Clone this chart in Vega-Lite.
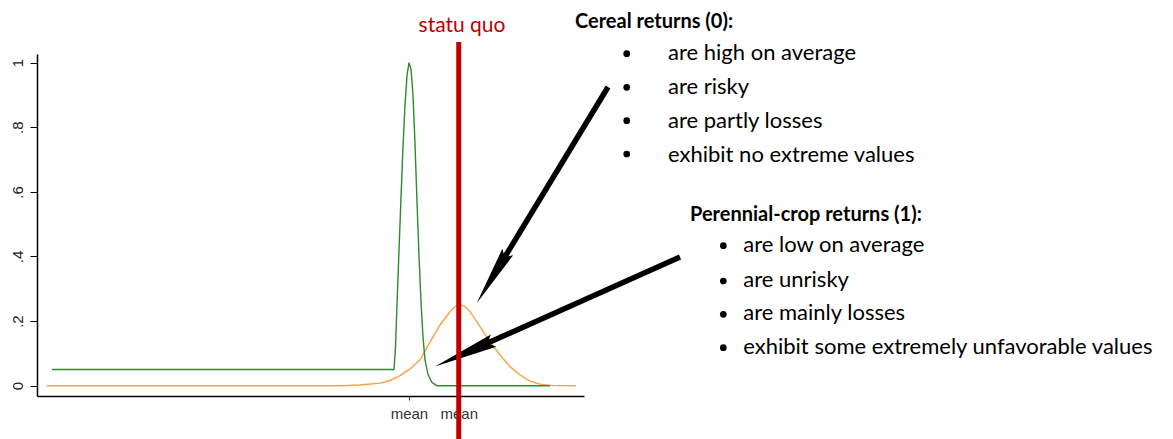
{
  "$schema": "https://vega.github.io/schema/vega-lite/v6.json",
  "width": 547,
  "height": 342,
  "autosize": {"type": "none"},
  "padding": {"left": 37, "top": 54, "right": 589, "bottom": 43},
  "background": "white",
  "config": {"view": {"stroke": null}, "axis": {"grid": false}},
  "datasets": {
    "curves": [
      {"crop": "Cereal (0)", "x": 1.77, "density": 0},
      {"crop": "Cereal (0)", "x": 55.39, "density": 0},
      {"crop": "Cereal (0)", "x": 59.05, "density": 0.002},
      {"crop": "Cereal (0)", "x": 62.71, "density": 0.008},
      {"crop": "Cereal (0)", "x": 64.53, "density": 0.016},
      {"crop": "Cereal (0)", "x": 66.36, "density": 0.031},
      {"crop": "Cereal (0)", "x": 68.19, "density": 0.052},
      {"crop": "Cereal (0)", "x": 70.02, "density": 0.08},
      {"crop": "Cereal (0)", "x": 71.85, "density": 0.135},
      {"crop": "Cereal (0)", "x": 73.67, "density": 0.188},
      {"crop": "Cereal (0)", "x": 75.5, "density": 0.229},
      {"crop": "Cereal (0)", "x": 76.42, "density": 0.245},
      {"crop": "Cereal (0)", "x": 77.33, "density": 0.25},
      {"crop": "Cereal (0)", "x": 78.24, "density": 0.245},
      {"crop": "Cereal (0)", "x": 79.16, "density": 0.229},
      {"crop": "Cereal (0)", "x": 80.99, "density": 0.183},
      {"crop": "Cereal (0)", "x": 82.82, "density": 0.136},
      {"crop": "Cereal (0)", "x": 84.64, "density": 0.095},
      {"crop": "Cereal (0)", "x": 86.47, "density": 0.059},
      {"crop": "Cereal (0)", "x": 88.3, "density": 0.033},
      {"crop": "Cereal (0)", "x": 90.13, "density": 0.014},
      {"crop": "Cereal (0)", "x": 91.96, "density": 0.005},
      {"crop": "Cereal (0)", "x": 93.78, "density": 0.001},
      {"crop": "Cereal (0)", "x": 98.48, "density": 0},
      {"crop": "Perennial crop (1)", "x": 2.74, "density": 0.05},
      {"crop": "Perennial crop (1)", "x": 65.27, "density": 0.05},
      {"crop": "Perennial crop (1)", "x": 65.54, "density": 0.12},
      {"crop": "Perennial crop (1)", "x": 65.81, "density": 0.25},
      {"crop": "Perennial crop (1)", "x": 66.18, "density": 0.42},
      {"crop": "Perennial crop (1)", "x": 66.54, "density": 0.58},
      {"crop": "Perennial crop (1)", "x": 66.91, "density": 0.74},
      {"crop": "Perennial crop (1)", "x": 67.28, "density": 0.87},
      {"crop": "Perennial crop (1)", "x": 67.64, "density": 0.96},
      {"crop": "Perennial crop (1)", "x": 68.01, "density": 1.0},
      {"crop": "Perennial crop (1)", "x": 68.37, "density": 0.98},
      {"crop": "Perennial crop (1)", "x": 68.74, "density": 0.9},
      {"crop": "Perennial crop (1)", "x": 69.1, "density": 0.75},
      {"crop": "Perennial crop (1)", "x": 69.47, "density": 0.57},
      {"crop": "Perennial crop (1)", "x": 69.84, "density": 0.4},
      {"crop": "Perennial crop (1)", "x": 70.2, "density": 0.26},
      {"crop": "Perennial crop (1)", "x": 70.57, "density": 0.15},
      {"crop": "Perennial crop (1)", "x": 70.93, "density": 0.08},
      {"crop": "Perennial crop (1)", "x": 71.48, "density": 0.035},
      {"crop": "Perennial crop (1)", "x": 72.21, "density": 0.01},
      {"crop": "Perennial crop (1)", "x": 73.13, "density": 0},
      {"crop": "Perennial crop (1)", "x": 93.78, "density": 0}
    ],
    "statusquo": [
      {"label": "statu quo", "x": 77.1, "top": 1.064, "bottom": -0.165, "labelX": 77.7, "labelY": 1.095}
    ],
    "arrows": [
      {"arrow": "cereal", "part": "start", "x": 104.39, "y": 0.9248},
      {"arrow": "cereal", "part": "neck", "x": 84.18, "y": 0.361},
      {"arrow": "cereal", "part": "tip", "x": 80.38, "y": 0.2551},
      {"arrow": "perennial", "part": "start", "x": 117.55, "y": 0.3985},
      {"arrow": "perennial", "part": "neck", "x": 79.45, "y": 0.1096},
      {"arrow": "perennial", "part": "tip", "x": 72.76, "y": 0.0594}
    ],
    "titles": [
      {"text": "Cereal returns (0):", "x": 98.35, "y": 1.1065},
      {"text": "Perennial-crop returns (1):", "x": 119.38, "y": 0.5093}
    ],
    "items": [
      {"text": "are high on average", "x": 115.36, "y": 1.0084, "bx": 107.81, "by": 1.0279},
      {"text": "are risky", "x": 115.36, "y": 0.9031, "bx": 107.81, "by": 0.9238},
      {"text": "are partly losses", "x": 115.36, "y": 0.7969, "bx": 107.81, "by": 0.8204},
      {"text": "exhibit no extreme values", "x": 115.36, "y": 0.6935, "bx": 107.81, "by": 0.7173},
      {"text": "are low on average", "x": 129.12, "y": 0.4148, "bx": 125.47, "by": 0.4334},
      {"text": "are unrisky", "x": 129.12, "y": 0.3065, "bx": 125.47, "by": 0.3241},
      {"text": "are mainly losses", "x": 129.12, "y": 0.2034, "bx": 125.47, "by": 0.221},
      {"text": "exhibit some extremely unfavorable values", "x": 129.12, "y": 0.0972, "bx": 125.47, "by": 0.1176}
    ]
  },
  "layer": [
    {
      "data": {"name": "curves"},
      "mark": {"type": "line", "strokeWidth": 1.4},
      "encoding": {
        "x": {
          "field": "x", "type": "quantitative",
          "scale": {"domain": [0, 100], "nice": false, "zero": false},
          "axis": {
            "values": [68.0, 77.1], "labelExpr": "'mean'", "title": null,
            "domainColor": "#000", "domainWidth": 1.5, "tickColor": "#333", "tickSize": 4,
            "labelFont": "Liberation Sans", "labelFontSize": 15, "labelColor": "#333",
            "labelPadding": 6, "labelOverlap": false, "labelFlush": false
          }
        },
        "y": {
          "field": "density", "type": "quantitative",
          "scale": {"domain": [-0.0319, 1.0269], "nice": false, "zero": false},
          "axis": {
            "values": [0, 0.2, 0.4, 0.6, 0.8, 1],
            "labelExpr": "datum.value == 0 ? '0' : datum.value == 1 ? '1' : replace(format(datum.value, '.1f'), '0.', '.')",
            "title": null, "labelAngle": -90, "labelAlign": "center", "labelBaseline": "bottom",
            "domainColor": "#000", "domainWidth": 1.5, "tickColor": "#000", "tickSize": 7,
            "labelFont": "Liberation Sans", "labelFontSize": 15, "labelColor": "#222",
            "labelPadding": 5, "labelOverlap": false, "labelFlush": false
          }
        },
        "color": {
          "field": "crop", "type": "nominal",
          "scale": {"domain": ["Cereal (0)", "Perennial crop (1)"], "range": ["#ffa040", "#2d8a2d"]},
          "legend": null
        }
      }
    },
    {
      "data": {"name": "arrows"},
      "transform": [{"filter": "datum.part != 'tip'"}],
      "mark": {"type": "line", "color": "#000", "strokeWidth": 5.5, "strokeCap": "butt"},
      "encoding": {
        "x": {"field": "x", "type": "quantitative"},
        "y": {"field": "y", "type": "quantitative"},
        "detail": {"field": "arrow"}
      }
    },
    {
      "data": {"name": "arrows"},
      "transform": [{"filter": "datum.part == 'tip'"}],
      "mark": {"type": "point", "shape": "M0,0 L0.21,2 L0,1.8 L-0.21,2 Z", "filled": true, "color": "#000", "opacity": 1, "strokeWidth": 0},
      "encoding": {
        "x": {"field": "x", "type": "quantitative"},
        "y": {"field": "y", "type": "quantitative"},
        "angle": {"condition": {"test": "datum.arrow == 'cereal'", "value": 211.2}, "value": 246.1},
        "size": {"condition": {"test": "datum.arrow == 'cereal'", "value": 3600}, "value": 4100}
      }
    },
    {
      "data": {"name": "statusquo"},
      "mark": {"type": "rule", "color": "#c00000", "strokeWidth": 5},
      "encoding": {
        "x": {"field": "x", "type": "quantitative"},
        "y": {"field": "top", "type": "quantitative"},
        "y2": {"field": "bottom"}
      }
    },
    {
      "data": {"name": "statusquo"},
      "mark": {"type": "text", "color": "#c00000", "font": "Lato", "fontSize": 21, "align": "center", "baseline": "alphabetic"},
      "encoding": {
        "x": {"field": "labelX", "type": "quantitative"},
        "y": {"field": "labelY", "type": "quantitative"},
        "text": {"field": "label"}
      }
    },
    {
      "data": {"name": "titles"},
      "mark": {"type": "text", "color": "#000", "font": "Lato", "fontSize": 20, "fontWeight": "bold", "align": "left", "baseline": "alphabetic"},
      "encoding": {
        "x": {"field": "x", "type": "quantitative"},
        "y": {"field": "y", "type": "quantitative"},
        "text": {"field": "text"}
      }
    },
    {
      "data": {"name": "items"},
      "mark": {"type": "text", "color": "#000", "font": "Lato", "fontSize": 22, "align": "left", "baseline": "alphabetic"},
      "encoding": {
        "x": {"field": "x", "type": "quantitative"},
        "y": {"field": "y", "type": "quantitative"},
        "text": {"field": "text"}
      }
    },
    {
      "data": {"name": "items"},
      "mark": {"type": "point", "shape": "circle", "filled": true, "color": "#000", "size": 45, "opacity": 1},
      "encoding": {
        "x": {"field": "bx", "type": "quantitative"},
        "y": {"field": "by", "type": "quantitative"}
      }
    }
  ]
}
